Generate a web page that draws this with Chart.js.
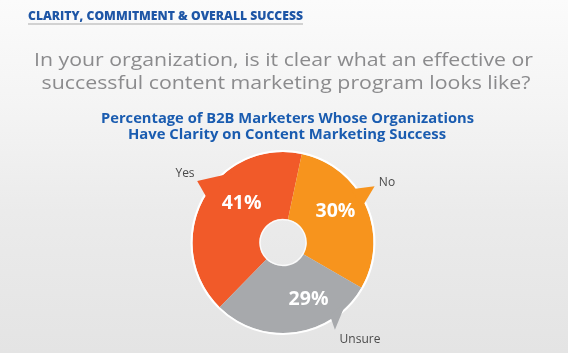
<!DOCTYPE html>
<html>
<head>
<meta charset="utf-8">
<script src="https://cdn.jsdelivr.net/npm/chart.js@4/dist/chart.umd.min.js"></script>
<style>
html,body{margin:0;padding:0;}
body{width:568px;height:353px;overflow:hidden;background:linear-gradient(180deg,#fbfbfb 0%,#f4f4f4 30%,#ebebeb 60%,#e4e4e4 100%);}
#wrap{position:relative;width:568px;height:353px;}
</style>
</head>
<body>
<div id="wrap"><canvas id="c" width="568" height="353"></canvas></div>
<script>
// ---- data ----
const categories = ['Yes', 'No', 'Unsure'];
const values = [41, 30, 29];
const valueLabels = ['41%', '30%', '29%'];
const headerText = 'CLARITY, COMMITMENT & OVERALL SUCCESS';
const questionLines = ['In your organization, is it clear what an effective or', 'successful content marketing program looks like?'];
const titleLines = ['Percentage of B2B Marketers Whose Organizations', 'Have Clarity on Content Marketing Success'];

// ---- styles ----
const colors = ['#f15a29', '#f7941d', '#a7a9ac'];
const labelFrac = [0.61, 0.43, 0.34];      // position of % label within slice (fraction of arc)
const labelRad = [0.64, 0.68, 0.68];       // fraction of outer radius
const tipFrac = [0.55, 0.43, 0.28];
const baseFrac = [[0.51, 0.67], [0.37, 0.50], [0.12, 0.26]];
const tipExtra = [15, 17, 11];
const catLabelPos = [[185, 177], [387, 186], [360, 343]];

function fitText(ctx, text, x, y, targetW, align) {
  const w = ctx.measureText(text).width;
  const s = targetW / w;
  ctx.save();
  ctx.translate(x, y);
  ctx.scale(s, 1);
  ctx.textAlign = align || 'center';
  ctx.fillText(text, 0, 0);
  ctx.restore();
}

const decor = {
  id: 'decor',
  beforeDraw(chart) {
    const ctx = chart.ctx;
    ctx.save();
    ctx.textBaseline = 'alphabetic';
    // header
    ctx.fillStyle = '#1e56a6';
    ctx.font = '800 11.5px "Open Sans"';
    fitText(ctx, headerText, 28, 20, 275, 'left');
    ctx.fillStyle = '#d2d2d2';
    ctx.fillRect(28, 23, 275, 2);
    // question
    ctx.fillStyle = '#8b8b8d';
    ctx.font = '500 18.5px "Open Sans"';
    fitText(ctx, questionLines[0], 283.5, 66, 499);
    fitText(ctx, questionLines[1], 286, 89, 489);
    // title
    ctx.fillStyle = '#1a5cb0';
    ctx.font = 'bold 15px "Open Sans"';
    fitText(ctx, titleLines[0], 287.5, 123, 373);
    fitText(ctx, titleLines[1], 287, 139, 318);
    // category labels
    ctx.fillStyle = '#4a4a4a';
    ctx.font = '12px "Open Sans"';
    ctx.textAlign = 'center';
    categories.forEach((c, i) => ctx.fillText(c, catLabelPos[i][0], catLabelPos[i][1]));
    ctx.restore();
  },
  afterDatasetsDraw(chart) {
    const ctx = chart.ctx;
    const meta = chart.getDatasetMeta(0);
    ctx.save();
    meta.data.forEach((arc, i) => {
      const {x, y, startAngle, endAngle, outerRadius, innerRadius} = arc.getProps(['x','y','startAngle','endAngle','outerRadius','innerRadius'], true);
      ctx.beginPath();
      ctx.arc(x, y, outerRadius + 1, startAngle, endAngle);
      ctx.strokeStyle = '#ffffff';
      ctx.lineWidth = 2;
      ctx.stroke();
      ctx.beginPath();
      ctx.arc(x, y, innerRadius - 0.5, startAngle, endAngle);
      ctx.lineWidth = 1.5;
      ctx.strokeStyle = 'rgba(255,255,255,0.8)';
      ctx.stroke();
    });
    meta.data.forEach((arc, i) => {
      const {x, y, startAngle, endAngle, outerRadius} = arc.getProps(['x','y','startAngle','endAngle','outerRadius'], true);
      const span = endAngle - startAngle;
      const ta = startAngle + span * tipFrac[i];
      const b1 = startAngle + span * baseFrac[i][0];
      const b2 = startAngle + span * baseFrac[i][1];
      const rt = outerRadius + tipExtra[i];
      const rb = outerRadius - 4;
      ctx.beginPath();
      ctx.moveTo(x + rb * Math.cos(b1), y + rb * Math.sin(b1));
      ctx.lineTo(x + rt * Math.cos(ta), y + rt * Math.sin(ta));
      ctx.lineTo(x + rb * Math.cos(b2), y + rb * Math.sin(b2));
      ctx.closePath();
      ctx.fillStyle = colors[i];
      ctx.fill();
    });
    ctx.fillStyle = '#ffffff';
    ctx.font = 'bold 19.5px "Open Sans"';
    ctx.textAlign = 'center';
    ctx.textBaseline = 'middle';
    meta.data.forEach((arc, i) => {
      const {x, y, startAngle, endAngle, outerRadius} = arc.getProps(['x','y','startAngle','endAngle','outerRadius'], true);
      const a = startAngle + (endAngle - startAngle) * labelFrac[i];
      const r = outerRadius * labelRad[i];
      ctx.fillText(valueLabels[i], x + r * Math.cos(a), y + r * Math.sin(a) + 1);
    });
    ctx.restore();
  }
};

new Chart(document.getElementById('c'), {
  type: 'doughnut',
  data: {
    labels: categories,
    datasets: [{
      data: values,
      backgroundColor: colors,
      borderWidth: 0,
      hoverOffset: 0
    }]
  },
  options: {
    responsive: false,
    animation: false,
    rotation: -135.6,
    cutout: '26%',
    layout: { padding: { top: 152, bottom: 20, left: 100, right: 102 } },
    plugins: {
      legend: { display: false },
      tooltip: { enabled: false },
      title: { display: false }
    },
    events: []
  },
  plugins: [decor]
});
</script>
</body>
</html>
